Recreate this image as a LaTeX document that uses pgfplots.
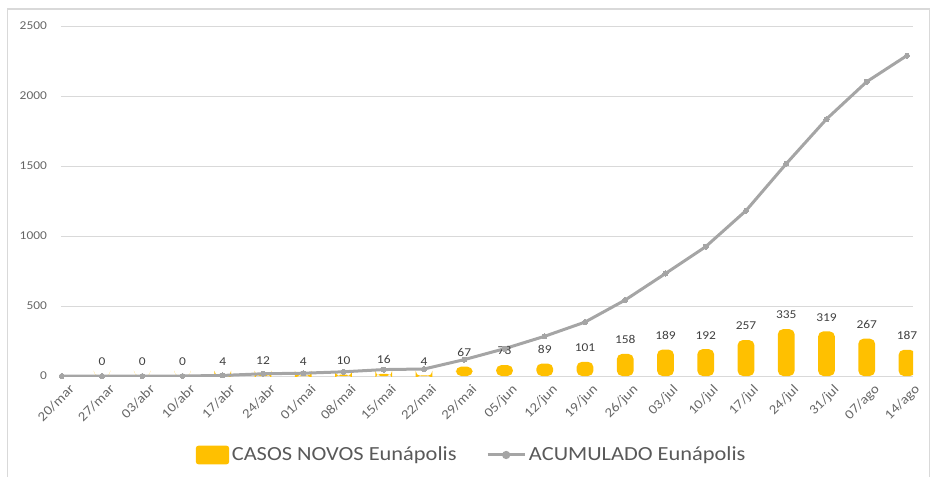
\documentclass[border=0pt]{standalone}
\usepackage{pgfplots}
\pgfplotsset{compat=1.18}
\usepackage{fontspec}
\setmainfont{Carlito}[FakeStretch=1.12]
\definecolor{barc}{HTML}{FFC000}
\definecolor{linec}{HTML}{A5A5A5}
\definecolor{gridc}{HTML}{D9D9D9}
\definecolor{tickc}{HTML}{666666}
\definecolor{labc}{HTML}{404040}
\definecolor{legc}{HTML}{595959}
\begin{document}
\begin{tikzpicture}
\path[use as bounding box] (-45.75pt,-75pt) rectangle (653.25pt,282pt);
\begin{axis}[
  scale only axis,
  width=639pt, height=262.5pt,
  xmin=-0.02, xmax=21.15,
  ymin=0, ymax=2500,
  ytick={0,500,1000,1500,2000,2500},
  xtick={0,...,21},
  xticklabels={20/mar,27/mar,03/abr,10/abr,17/abr,24/abr,01/mai,08/mai,15/mai,22/mai,29/mai,05/jun,12/jun,19/jun,26/jun,03/jul,10/jul,17/jul,24/jul,31/jul,07/ago,14/ago},
  axis line style={draw=none},
  major tick length=0pt,
  ymajorgrids,
  grid style={gridc, line width=0.75pt},
  /pgf/number format/assume math mode=true,
  /pgf/number format/set thousands separator={},
  yticklabel style={font=\fontsize{9}{10}\selectfont, text=tickc, anchor=east, xshift=-7pt},
  xticklabel style={font=\fontsize{10}{11}\selectfont, text=tickc, rotate=45, anchor=north east, xshift=3pt, yshift=-4pt},
  legend columns=2,
  legend style={at={(0.4824,-0.2257)}, anchor=center, draw=none, fill=none,
    font=\fontsize{15}{17}\selectfont, text=legc,
    /tikz/every even column/.append style={column sep=20pt}},
]
\addplot[ybar, bar width=0.42, fill=barc, draw=none, rounded corners=4pt,
  nodes near coords,
  every node near coord/.append style={font=\fontsize{9}{10}\selectfont, text=labc, yshift=4pt},
  legend image code/.code={\fill[barc, rounded corners=2pt] (0pt,-7pt) rectangle (25pt,7pt);}]
coordinates {
(1,0) (2,0) (3,0) (4,4) (5,12) (6,4) (7,10) (8,16) (9,4) (10,67)
(11,78) (12,89) (13,101) (14,158) (15,189) (16,192) (17,257) (18,335)
(19,319) (20,267) (21,187)};
\addlegendentry{CASOS NOVOS Eunápolis}
\addplot[sharp plot, color=linec, line width=2.25pt, mark=*, mark size=1.9pt,
  mark options={fill=linec, draw=linec, line width=0pt},
  legend image code/.code={\draw[linec, line width=2.25pt] (0pt,0pt) -- (28pt,0pt); \fill[linec] (14pt,0pt) circle (1.9pt);}]
coordinates {
(0,0) (1,0) (2,0) (3,0) (4,4) (5,16) (6,20) (7,30) (8,46) (9,50)
(10,117) (11,195) (12,284) (13,385) (14,543) (15,732) (16,924)
(17,1181) (18,1516) (19,1835) (20,2102) (21,2289)};
\addlegendentry{ACUMULADO Eunápolis}
\end{axis}
\draw[gridc, line width=0.75pt] (-39.75pt,-76pt) -- (-39.75pt,275.25pt) -- (651pt,275.25pt) -- (651pt,-76pt);
\end{tikzpicture}
\end{document}
